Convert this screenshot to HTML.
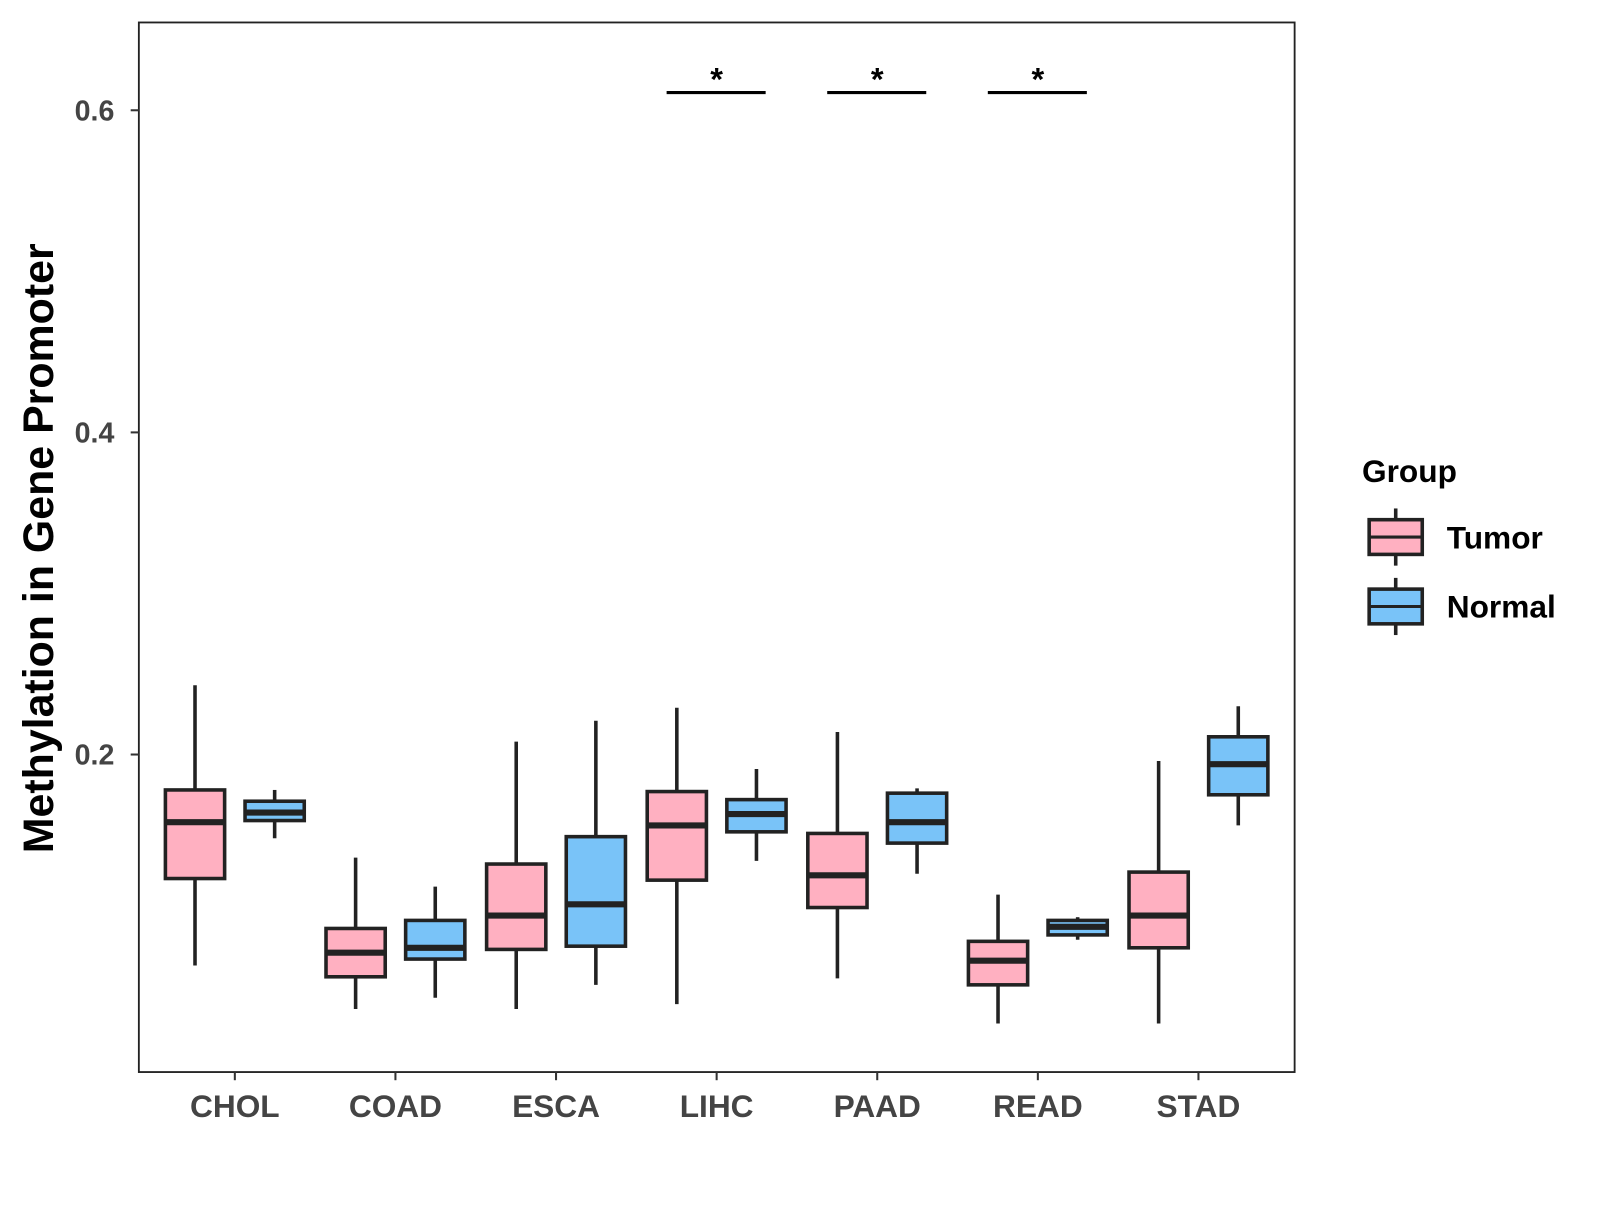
<!DOCTYPE html>
<html><head><meta charset="utf-8"><style>
body{margin:0;background:#fff}
svg text{font-family:"Liberation Sans",Arial,sans-serif;font-weight:bold}
</style></head><body>
<svg id="chart" width="1600" height="1200" xmlns="http://www.w3.org/2000/svg">
<rect width="1600" height="1200" fill="#fff"/>
<g id="plot" transform="scale(1.021)"></g>
</svg>
<script>
const categories=["CHOL","COAD","ESCA","LIHC","PAAD","READ","STAD"];
// [low, q1, median, q3, high]
const tumorStats=[[0.069,0.123,0.158,0.178,0.243],[0.042,0.062,0.077,0.092,0.136],[0.042,0.079,0.100,0.132,0.208],[0.045,0.122,0.156,0.177,0.229],[0.061,0.105,0.125,0.151,0.214],[0.033,0.057,0.072,0.084,0.113],[0.033,0.080,0.100,0.127,0.196]];
const normalStats=[[0.148,0.159,0.164,0.171,0.178],[0.049,0.073,0.080,0.097,0.118],[0.057,0.081,0.107,0.149,0.221],[0.134,0.152,0.163,0.172,0.191],[0.126,0.145,0.158,0.176,0.179],[0.085,0.088,0.093,0.097,0.099],[0.156,0.175,0.194,0.211,0.230]];
const yTicks=[0.2,0.4,0.6];
const sigCats=["LIHC","PAAD","READ"];
const sigLevel=0.611;

const NS="http://www.w3.org/2000/svg";
const g=document.getElementById('plot');
function y(v){return 739-(v-0.2)*1577.5;}
function x(i){return 230+i*157.3;}
function el(t,a,p){const e=document.createElementNS(NS,t);for(const k in a)e.setAttribute(k,a[k]);(p||g).appendChild(e);return e;}
let panel=el('rect',{x:136,y:22,width:1132,height:1028,fill:'none',stroke:'#222','stroke-width':1.8});


yTicks.forEach(v=>{
  let l=el('line',{x1:128,x2:136,y1:y(v),y2:y(v),stroke:'#333','stroke-width':2});
  
  
  let t=el('text',{x:112,y:y(v)+10,'text-anchor':'end','font-size':28,fill:'#444'});
  t.textContent=v.toFixed(1);
  
  
});
categories.forEach((c,i)=>{
  let l=el('line',{x1:x(i),x2:x(i),y1:1050,y2:1058,stroke:'#333','stroke-width':2});
  
  
  let t=el('text',{x:x(i),y:1094,'text-anchor':'middle','font-size':31,fill:'#444'});
  t.textContent=c;
  
  
});
function box(cx,s,fill,name){
  const w=58,gr=el('g',{});
  
  
  el('line',{x1:cx,x2:cx,y1:y(s[4]),y2:y(s[0]),stroke:'#222','stroke-width':3.5},gr);
  el('rect',{x:cx-w/2,y:y(s[3]),width:w,height:y(s[1])-y(s[3]),fill:fill,stroke:'#222','stroke-width':3.5},gr);
  el('line',{x1:cx-w/2,x2:cx+w/2,y1:y(s[2]),y2:y(s[2]),stroke:'#222','stroke-width':6},gr);
}
categories.forEach((c,i)=>{
  box(x(i)-39,tumorStats[i],'#FFB0C1','box-tumor-'+c.toLowerCase());
  box(x(i)+39,normalStats[i],'#79C3F8','box-normal-'+c.toLowerCase());
});
sigCats.forEach(c=>{
  const i=categories.indexOf(c);
  let l=el('line',{x1:x(i)-49,x2:x(i)+48,y1:y(sigLevel),y2:y(sigLevel),stroke:'#000','stroke-width':3});
  
  
  let t=el('text',{x:x(i),y:y(sigLevel)-2,'text-anchor':'middle','font-size':32,fill:'#000'});
  t.textContent='*';
  
  
});
let yl=el('text',{x:0,y:0,transform:'translate(52,537) rotate(-90)','text-anchor':'middle','font-size':42,fill:'#000'});
yl.textContent='Methylation in Gene Promoter';


let lt=el('text',{x:1334,y:472,'font-size':31,fill:'#000'});
lt.textContent='Group';


[['Tumor','#FFB0C1',526],['Normal','#79C3F8',594]].forEach(([n,f,cy])=>{
  const gr=el('g',{});
  
  
  el('line',{x1:1367,x2:1367,y1:cy-28,y2:cy+28,stroke:'#222','stroke-width':3.5},gr);
  el('rect',{x:1341,y:cy-17,width:52,height:34,fill:f,stroke:'#222','stroke-width':3.5},gr);
  el('line',{x1:1341,x2:1393,y1:cy,y2:cy,stroke:'#222','stroke-width':3},gr);
  const t=el('text',{x:1417,y:cy+11,'font-size':31,fill:'#000'},gr);
  t.textContent=n;
});
</script>
</body></html>
